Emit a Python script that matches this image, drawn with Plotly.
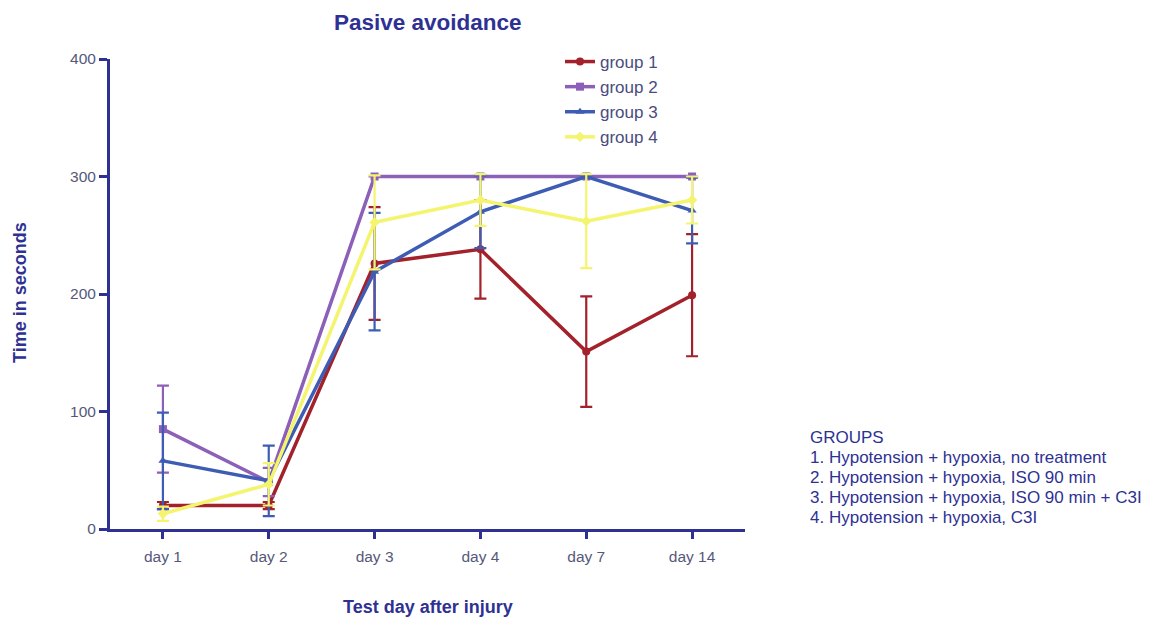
import plotly.graph_objects as go

# Test days and mean latency (s) with error bars for each group
days = ["day 1", "day 2", "day 3", "day 4", "day 7", "day 14"]

group1 = [20, 20, 226, 238, 151, 199]
group1_err = [3, 3, 48, 42, 47, 52]

group2 = [85, 40, 300, 300, 300, 300]
group2_err = [37, 12, 0, 0, 0, 0]

group3 = [58, 41, 219, 270, 300, 271]
group3_err = [41, 30, 50, 31, 0, 28]

group4 = [13, 38, 261, 280, 262, 280]
group4_err = [6, 18, 40, 22, 40, 20]

names = ["group 1", "group 2", "group 3", "group 4"]
colors = ["#A3212A", "#8C5FB8", "#3E5CB4", "#F4F46E"]
symbols = ["circle", "square", "triangle-up", "diamond"]

group_notes = [
    "GROUPS",
    "1. Hypotension + hypoxia, no treatment",
    "2. Hypotension + hypoxia, ISO 90 min",
    "3. Hypotension + hypoxia, ISO 90 min + C3I",
    "4. Hypotension + hypoxia, C3I",
]

W, H = 1149, 618
L, R, T, B = 110, 404, 59, 89
navy = "#2E3192"
tick_grey = "#56587A"
font_family = "Liberation Sans, Arial, sans-serif"


def px_x(x):
    return (x - L) / (W - L - R)


def px_y(y):
    return (H - B - y) / (H - T - B)


fig = go.Figure()
for name, vals, errs, col, sym in zip(
    names,
    [group1, group2, group3, group4],
    [group1_err, group2_err, group3_err, group4_err],
    colors,
    symbols,
):
    fig.add_trace(
        go.Scatter(
            x=list(range(len(days))),
            y=vals,
            name=name,
            mode="lines+markers",
            line=dict(color=col, width=3.5),
            marker=dict(color=col, symbol=sym, size=8),
            error_y=dict(type="data", array=errs, visible=True,
                         color=col, thickness=2.2, width=6),
        )
    )

fig.update_layout(
    width=W,
    height=H,
    margin=dict(l=L, r=R, t=T, b=B, autoexpand=False),
    paper_bgcolor="white",
    plot_bgcolor="white",
    font=dict(family=font_family, color=tick_grey),
    legend=dict(
        x=px_x(560), y=px_y(44), xanchor="left", yanchor="top",
        font=dict(size=17, color="#4A4C7E"),
        bgcolor="rgba(0,0,0,0)",
        tracegroupgap=0,
    ),
    showlegend=True,
)

fig.update_xaxes(
    range=[-0.5, 5.5],
    tickmode="array",
    tickvals=list(range(len(days))),
    ticktext=days,
    showgrid=False,
    zeroline=False,
    showline=True,
    linecolor=navy,
    linewidth=3,
    ticks="outside",
    ticklen=7,
    tickwidth=3,
    tickcolor=navy,
    ticklabelstandoff=4,
    tickfont=dict(size=15.5, color=tick_grey),
)

fig.update_yaxes(
    range=[0, 400],
    tickvals=[0, 100, 200, 300, 400],
    showgrid=False,
    zeroline=False,
    showline=True,
    linecolor=navy,
    linewidth=3,
    ticks="outside",
    ticklen=8,
    tickwidth=3,
    tickcolor=navy,
    tickfont=dict(size=15.5, color=tick_grey),
)

# Title and axis titles
fig.add_annotation(
    text="<b>Pasive avoidance</b>", xref="paper", yref="paper",
    x=px_x(428), y=px_y(23), xanchor="center", yanchor="middle",
    showarrow=False, font=dict(size=22.5, color=navy),
)
fig.add_annotation(
    text="<b>Test day after injury</b>", xref="paper", yref="paper",
    x=px_x(428), y=px_y(607), xanchor="center", yanchor="middle",
    showarrow=False, font=dict(size=18, color=navy),
)
fig.add_annotation(
    text="<b>Time in seconds</b>", xref="paper", yref="paper",
    x=px_x(20), y=px_y(293), xanchor="center", yanchor="middle",
    textangle=-90, showarrow=False, font=dict(size=18, color=navy),
)

# Group description block
for i, line in enumerate(group_notes):
    fig.add_annotation(
        text=line, xref="paper", yref="paper",
        x=px_x(808), y=px_y(437 + 20 * i),
        xanchor="left", yanchor="middle", align="left",
        showarrow=False, font=dict(size=17, color=navy),
    )

fig.write_html("out.html")
